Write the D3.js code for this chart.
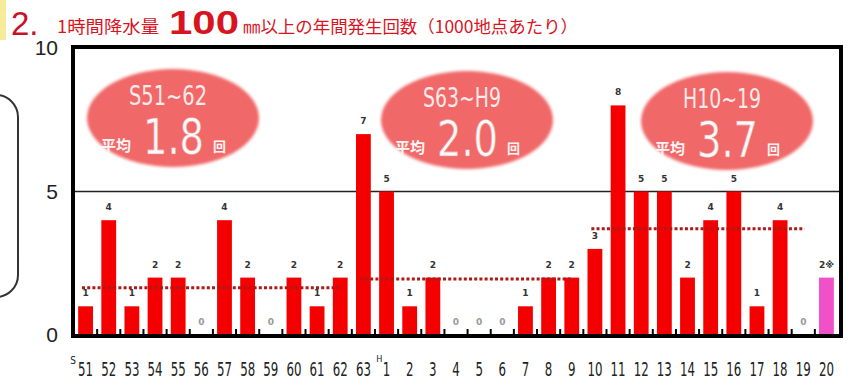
<!DOCTYPE html>
<html lang="ja">
<head>
<meta charset="utf-8">
<style>
  html, body { margin: 0; padding: 0; background: #fff; }
  svg { display: block; }
</style>
</head>
<body>
<div id="chart"></div>
<script src="https://cdnjs.cloudflare.com/ajax/libs/d3/7.8.5/d3.min.js"></script>
<script>
// data
var years = ["51","52","53","54","55","56","57","58","59","60","61","62","63",
             "1","2","3","4","5","6","7","8","9","10","11","12","13","14","15","16","17","18","19","20"];
var counts = [1,4,1,2,2,0,4,2,0,2,1,2,7,
              5,1,2,0,0,0,1,2,2,3,8,5,5,2,4,5,1,4,0,2];
var periodNames = ["S51~62", "S63~H9", "H10~19"];
var periodFrom = ["51", "63", "10"];
var periodTo = ["62", "9", "19"];
var periodAvg = ["1.8", "2.0", "3.7"];
var avgLineLevel = [1.65, 1.95, 3.7];
var yTicks = [0, 5, 10];

var W = 854, H = 383;
var narrow = "'DejaVu Sans Condensed','Liberation Sans Narrow',sans-serif";
var jp = "'Noto Sans CJK JP','Noto Sans',sans-serif";

var svg = d3.select("#chart").append("svg").attr("width", W).attr("height", H);

var defs = svg.append("defs");
defs.append("filter").attr("id", "soft")
  .attr("x", "-10%").attr("y", "-10%").attr("width", "120%").attr("height", "120%")
  .append("feGaussianBlur").attr("stdDeviation", 1.6);

// yellow mark at the very left of the title
svg.append("rect").attr("x", 0).attr("y", 0).attr("width", 6).attr("height", 40).attr("fill", "#f7ec9a");

// title
var title = svg.append("text").attr("x", 11).attr("y", 35).attr("fill", "#d8141f").style("font-family", jp);
title.append("tspan").text("2.").style("font-size", "33px").style("font-family", "'Liberation Sans',sans-serif").attr("fill", "#c8122a");
title.append("tspan").attr("x", 57).attr("y", 33).text("1時間降水量").style("font-size", "17px")
  .attr("textLength", 102).attr("lengthAdjust", "spacingAndGlyphs");
title.append("tspan").attr("x", 169).attr("y", 34).text("100").style("font-size", "34px").style("font-weight", "bold")
  .style("font-family", "'Liberation Sans',sans-serif").attr("textLength", 70).attr("lengthAdjust", "spacingAndGlyphs");
title.append("tspan").attr("x", 243).attr("y", 33).text("㎜以上の年間発生回数（1000地点あたり）")
  .style("font-size", "17px").attr("textLength", 335).attr("lengthAdjust", "spacingAndGlyphs");

// rounded box cut by the left edge
svg.append("rect").attr("x", -60).attr("y", 95).attr("width", 78).attr("height", 202)
  .attr("rx", 22).attr("fill", "none").attr("stroke", "#333").attr("stroke-width", 2);

var pLeft = 74, pRight = 840, pTop = 48, pBottom = 335;

var x = d3.scaleBand().domain(years).range([pLeft, pRight - 2]).paddingInner(0.36).paddingOuter(0.18);
var step = x.step();
var y = d3.scaleLinear().domain([0, 10]).range([pBottom, pTop]);

// y axis labels
var yAxis = svg.append("g").attr("transform", "translate(" + pLeft + ",0)")
  .call(d3.axisLeft(y).tickValues(yTicks).tickSize(0).tickPadding(16));
yAxis.select(".domain").remove();
yAxis.selectAll("text").style("font-family", "'Liberation Sans',Arial,sans-serif")
  .style("font-size", "21px").attr("fill", "#222");

// line at 5
svg.append("line").attr("x1", pLeft).attr("x2", pRight).attr("y1", y(5)).attr("y2", y(5))
  .attr("stroke", "#222").attr("stroke-width", 1.6);

// bubbles
var bubblePos = [[173, 118], [467, 120], [727, 121]];
var bub = svg.selectAll("g.bubble").data(periodNames).join("g").attr("class", "bubble")
  .attr("transform", function(d, i) { return "translate(" + bubblePos[i][0] + "," + bubblePos[i][1] + ")"; });
bub.append("ellipse").attr("rx", 86).attr("ry", 49).attr("fill", "#f06868").attr("filter", "url(#soft)");
bub.append("text").attr("x", -44).attr("y", -13).text(function(d) { return d; })
  .attr("textLength", 78).attr("lengthAdjust", "spacingAndGlyphs")
  .style("font-family", narrow).style("font-size", "26px").attr("fill", "#fdeaea");
bub.append("text").attr("x", -72).attr("y", 33).text("平均")
  .style("font-family", jp).style("font-size", "15px").style("font-weight", "bold").attr("fill", "#fff4f4");
bub.append("text").attr("x", -30).attr("y", 36).text(function(d, i) { return periodAvg[i]; })
  .attr("textLength", 61).attr("lengthAdjust", "spacingAndGlyphs")
  .style("font-family", narrow).style("font-size", "49px")
  .attr("fill", "#fff8f8").attr("stroke", "#e89090").attr("stroke-width", 0.6);
bub.append("text").attr("x", 40).attr("y", 33).text("回")
  .style("font-family", jp).style("font-size", "13px").style("font-weight", "bold").attr("fill", "#fff4f4");

// bars
svg.selectAll("rect.bar").data(counts).join("rect").attr("class", "bar")
  .attr("x", function(d, i) { return x(years[i]); })
  .attr("width", x.bandwidth())
  .attr("y", function(d) { return y(d); })
  .attr("height", function(d) { return y(0) - y(d); })
  .attr("fill", function(d, i) { return i === years.length - 1 ? "#f050c8" : "#f40000"; });

// value labels
svg.selectAll("text.val").data(counts).join("text").attr("class", "val")
  .attr("x", function(d, i) { return x(years[i]) + x.bandwidth() / 2; })
  .attr("y", function(d) { return y(d) - 10; })
  .attr("text-anchor", "middle")
  .text(function(d, i) { return i === years.length - 1 ? d + "※" : d; })
  .style("font-family", "'DejaVu Sans',sans-serif").style("font-size", "9px").style("font-weight", "bold")
  .attr("fill", function(d) { return d === 0 ? "#9a9a9a" : "#333"; });

// average dotted lines
svg.selectAll("line.avg").data(avgLineLevel).join("line").attr("class", "avg")
  .attr("x1", function(d, i) { return x(periodFrom[i]) - step * 0.18 + 8; })
  .attr("x2", function(d, i) { return x(periodTo[i]) - step * 0.18 + 13; })
  .attr("y1", function(d) { return y(d); }).attr("y2", function(d) { return y(d); })
  .attr("stroke", "#b01818").attr("stroke-width", 3).attr("stroke-dasharray", "3,2.2");

// frame
svg.append("rect").attr("x", pLeft - 1).attr("y", pTop - 1).attr("width", pRight - pLeft + 2).attr("height", pBottom - pTop + 2)
  .attr("fill", "none").attr("stroke", "#000").attr("stroke-width", 4);

// small ticks at band borders
var borders = years.slice(1);
svg.selectAll("line.btick").data(borders).join("line").attr("class", "btick")
  .attr("x1", function(d) { return x(d) - step * 0.18; }).attr("x2", function(d) { return x(d) - step * 0.18; })
  .attr("y1", pBottom).attr("y2", pBottom - 6).attr("stroke", "#000").attr("stroke-width", 2);

// x axis labels
var xAxis = svg.append("g").attr("transform", "translate(0," + pBottom + ")")
  .call(d3.axisBottom(x).tickSize(0).tickPadding(27));
xAxis.select(".domain").remove();
xAxis.selectAll("text").style("font-family", narrow).style("font-size", "20px").attr("fill", "#222")
  .attr("textLength", function(d) { return d.length * 7.5; }).attr("lengthAdjust", "spacingAndGlyphs");
// era marks
svg.append("text").attr("x", x("51") - 8).attr("y", 364).text("S")
  .style("font-family", narrow).style("font-size", "10px").attr("fill", "#222");
svg.append("text").attr("x", x("1") - 3).attr("y", 362).text("H")
  .style("font-family", narrow).style("font-size", "9px").attr("fill", "#222");
</script>
</body>
</html>
